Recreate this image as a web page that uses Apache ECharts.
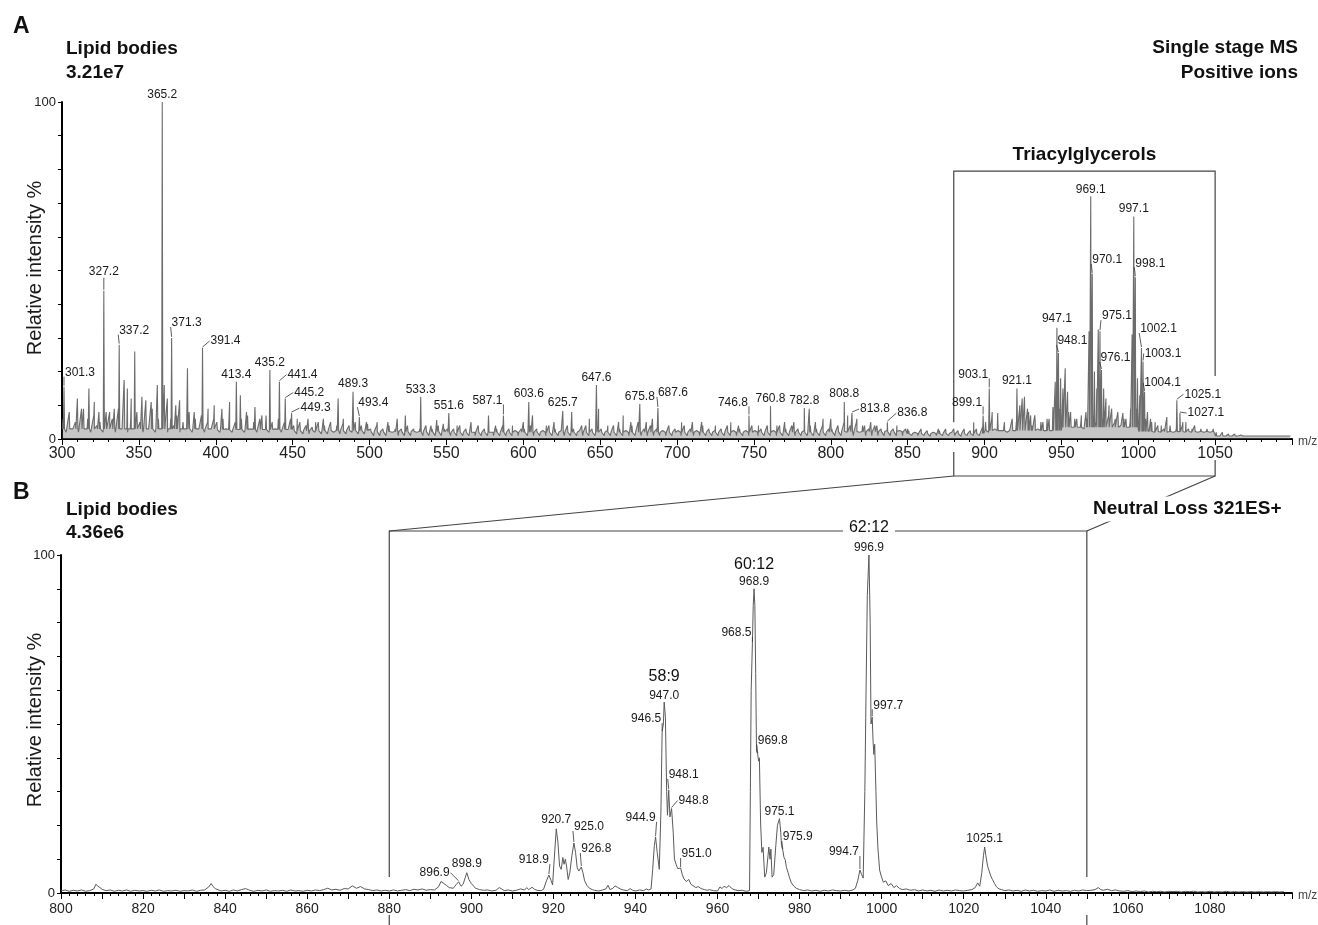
<!DOCTYPE html>
<html><head><meta charset="utf-8">
<script src="https://cdn.jsdelivr.net/npm/echarts@6/dist/echarts.min.js"></script>
<style>html,body{margin:0;padding:0;background:#fff}#c{width:1318px;height:925px}</style>
</head><body><div id="c"></div>
<script>
// ---------- DATA ----------
const topNoiseStart = 300, topNoiseStep = 2;
const topNoise = [
6,2,8,3,5,2,9,3,6,2,7,4,5,2,8,3,6,2,9,3,7,2,6,3,8,
5,2,7,3,9,2,6,3,8,2,6,4,7,2,5,3,8,2,6,3,7,2,5,3,6,
5,2,6,3,7,2,5,3,6,2,7,3,5,2,6,3,7,2,5,3,6,2,5,3,6,
4,1.5,5,1.5,4,1.5,3.5,2,5,1.5,4,1.5,5,2,4,1.5,4.5,1.5,4,2,5,1.5,4,1.5,4.5,
3,1,4,1,3,1,4,2,3,1,3,1,4,1,3,2,3,1,4,1,3,1,4,1,3,
3,1,3,1,4,1,3,1,2.5,1,4,1,3,1,2.5,1,3,1,4,1,3,1,2.5,1,3,
3,1,4,1,3,1,2.5,1,4,1,3,1,2.5,1,4,1,3,1,2.5,1,4,1,3,1,4,
3,1,2.5,1,4,1,3,1,2.5,1,4,1,5,1,3,1,4,1,3,1,2.5,1,4,1,3,
2.5,1,4,1,3,1,2.5,1,4,1,3,1,2.5,1,3,1,4,1,2.5,1,3,1,2.5,1,4,
2.5,1,3,1,4,1,2.5,1,4,1,3,1,4,1,3,1,2.5,1,4,1,3,1,4,1,3,
3,1,4,1,5,2,4,1,5,2,4,1,3,1,4,1,3,1,2.5,1,3,1,2.5,1,3,
2.5,1,2,1,3,1,2.5,0.8,2,1,2.5,1,3,1,2,1,2.5,0.8,3,1,2.5,1,3,1,3.5,
5,2,6,3,5,2,4,2,3,2,5,3,6,3,8,4,7,3,5,2,6,3,7,4,9,
10,5,8,4,6,3,5,3,6,3,7,5,9,6,10,7,9,5,8,4,6,3,5,4,9,
8,4,6,3,5,2,4,2,3,2,4,2,3,2,4,2,3,2,4,2,3,2,3,2,3,
2,1,2,1,1.5,0.8,1.5,0.8,1.2,0.6,1.2,0.6,1,0.6,1,0.5,1,0.5,1,0.5,0.9,0.5,0.9,0.5,0.8
];
// baseline (dense noise band) level for each 50-unit segment, 300 -> 1100
const topBandLevel = [3, 3, 2.8, 2.5, 2.2, 2, 2, 2, 2, 2, 2.2, 1.6, 2.5, 3.5, 2.2, 0.9];
const topPeaks = [
[301.3,15.5],[305,8],[310,12],[314,9],[317.5,15],[321,11],[324,8],[327.2,44],[331,8],[334,9],[337.2,28],[340.4,17.5],[342.5,15],[345,12],[347.3,26],[352,12.5],[354.5,11.5],[358,11],[362,16],[365.2,100],[366.5,16],[368.5,12],[371.3,30],[374,10],[376.5,11.5],[381.6,21],[386,8],[391.4,27],[395,9],[399,10],[404,9],[409,11],[413.4,17],[416,13],[420,8],[425.5,9.5],[430,7],[435.2,20.5],[441.4,17],[445.2,12],[449.3,7.7],[453,6],[460,6],[465,5],[470,6],[479.6,12],[483,6],[489.3,14],[493.4,6.5],[498,5],[505,5],[512,5],[518,6],[523.3,7],[533.3,12.5],[540,4],[543.7,5.6],[548,4.5],[551.6,7.7],[557,4],[566,5],[577.4,7],[582,4],[587.1,7],[593,4],[600,5],[603.6,11],[606,7],[615,4],[620,5],[625.7,8.3],[631.5,8],[638,4],[643,6],[647.6,16],[649,9],[655,4],[662,5],[665,7],[670,5],[675.8,10.4],[680,5],[684,6],[687.6,9.2],[695,4],[703,5],[710,5],[716,5],[725,4],[735,5],[740,4],[746.8,7],[753,4],[760.8,9.8],[765,4],[770,5],[776,5],[782.8,9.2],[786,9],[790,5],[795,6],[800,6],[805,4],[808.8,11],[811,7],[813.8,7.7],[817,6],[822,4],[826,5],[830,4],[836.8,5],[843,4],[850,3],[870,3],[880,3],[893,5],[899.1,7],[903.1,15],[905,8],[908.6,7.7],[913,5],[918,6],[921.1,15],[923,10],[924.5,12],[926,12.5],[928,9],[930,7],[933,5],[938,5],[942,6],[944.5,9.5],[946,17],[947.1,33],[948.1,25.5],[949.5,18],[951,15],[952.5,21],[954,14],[956,8],[960,6],[963,7],[966,8],[968,32],[969.1,72],[970.1,49],[971.5,20],[973,15],[974,32.5],[975.1,32],[976.1,20.5],[977.5,15],[979,12],[981,10],[983,9],[985,6],[987,5],[990,7.7],[992,6],[995,9],[996,31],[997.1,66],[998.1,48],[999.5,18],[1001,13],[1002.1,27],[1003.1,23],[1004.1,14],[1006,8],[1008,6],[1011,5],[1015,4],[1018.6,6.5],[1021,4],[1025.1,11.5],[1027.1,7.7],[1029,5],[1031,5],[1035,3],[1040,2.5]
];
const topLabels = ['301.3','327.2','337.2','365.2','371.3','391.4','413.4','435.2','441.4','445.2','449.3','489.3','493.4','533.3','551.6','587.1','603.6','625.7','647.6','675.8','687.6','746.8','760.8','782.8','808.8','813.8','836.8','899.1','903.1','921.1','947.1','948.1','969.1','970.1','975.1','976.1','997.1','998.1','1002.1','1003.1','1004.1','1025.1','1027.1'];
const topTickLabels = [300,350,400,450,500,550,600,650,700,750,800,850,900,950,1000,1050];

const bottomProfile = [
[800,0.6],[801,0.9],[802,0.5],[803,0.8],[804,0.6],[805,0.9],[806,0.5],[807,0.7],[808,1.2],[808.5,2.6],[809,2.0],[809.5,1.6],[810,1.1],[811,0.7],[812,0.9],[813,0.5],[814,0.8],[815,0.6],[816,0.9],[817,0.5],[818,0.8],[819,0.6],[820,0.7],[821,0.5],[822,0.8],[823,0.6],[824,0.9],[825,0.5],[826,0.7],[827,0.6],[828,0.8],[829,0.5],[830,0.7],[831,0.6],[832,0.9],[833,0.5],[834,0.8],[835,0.9],[836,1.8],[836.6,2.8],[837,2.0],[837.6,1.3],[838,0.9],[839,0.6],[840,0.8],[841,0.5],[842,0.9],[843,0.6],[844,1.0],[845,1.3],[846,0.8],[847,0.5],[848,0.8],[849,0.6],[850,0.9],[851,0.5],[852,0.7],[853,0.6],[854,0.8],[855,0.5],[856,0.9],[857,0.6],[858,0.7],[859,0.5],[860,0.8],[861,0.6],[862,0.9],[863,0.7],[864,1.0],[865,1.4],[866,0.9],[867,1.1],[868,0.8],[869,1.3],[870,1.2],[871,2.1],[872,1.4],[873,1.9],[874,1.2],[875,1.0],[876,0.7],[877,0.9],[878,0.6],[879,0.8],[880,0.6],[881,0.9],[882,0.6],[883,0.8],[884,1.0],[885,0.7],[886,1.1],[887,0.9],[888,1.2],[889,0.8],[890,1.0],[891,0.9],[892,1.8],[892.6,3.4],[893.3,2.8],[894,2.2],[894.6,1.6],[895,1.2],[895.6,1.4],[896.3,2.5],[896.9,3.3],[897.5,2.0],[898,2.6],[898.5,4.5],[898.9,6.0],[899.4,4.0],[900,2.8],[900.6,2.0],[901,1.4],[902,1.0],[903,0.8],[904,0.9],[905,0.6],[906,0.8],[906.8,1.6],[907.4,1.2],[908,0.7],[909,0.9],[910,0.6],[911,0.8],[912,1.2],[913,0.9],[913.5,1.6],[914,1.0],[914.8,1.7],[915.4,1.1],[916,0.8],[917,0.7],[917.6,1.1],[918.3,3.6],[918.9,5.3],[919.4,3.8],[919.8,2.4],[920.2,10],[920.7,19],[921.1,15],[921.5,8],[921.9,7],[922.3,10.5],[922.6,8.5],[922.9,10],[923.2,8],[923.6,4],[924,6],[924.5,11],[925,14.8],[925.4,12],[925.8,7.5],[926.2,6.5],[926.8,7.7],[927.2,6],[927.6,3.6],[928.2,2.2],[928.8,1.4],[929.5,1.0],[930,0.8],[931,0.6],[932,0.9],[932.8,1.2],[933.3,2.3],[933.8,1.0],[934.5,1.4],[935,2.1],[935.6,1.7],[936.3,1.2],[937,0.9],[938,0.7],[938.7,1.3],[939.3,0.8],[940,0.6],[941,0.9],[942,0.7],[942.6,1.2],[943.2,0.9],[943.8,1.2],[944.2,7],[944.6,14],[944.9,16.6],[945.3,12],[945.8,7],[946.2,24],[946.5,47.6],[946.8,50],[947.0,56.5],[947.3,52],[947.6,30],[947.8,23],[948.1,30.5],[948.4,22.5],[948.8,25],[949.2,18],[949.5,10],[949.9,8.5],[950.3,7.2],[951.0,7.4],[951.4,5.5],[951.8,4.2],[952.4,3.4],[953,4.0],[953.5,2.6],[954,2.2],[954.7,1.6],[955.3,1.9],[956,1.3],[956.8,1.0],[957.5,0.8],[958,1.0],[959,0.7],[960,0.6],[960.6,1.8],[961.1,1.3],[961.6,2.0],[962.2,1.6],[962.8,2.2],[963.4,1.4],[964,1.0],[965,0.7],[966,0.8],[967,0.5],[967.8,0.7],[968.0,30],[968.2,60],[968.5,74],[968.7,85],[968.9,90],[969.1,85],[969.3,65],[969.5,42],[969.8,41],[970.0,39],[970.2,40],[970.5,20.7],[970.8,12],[971.1,13.5],[971.5,4.7],[971.9,6],[972.3,11],[972.5,13.6],[972.8,10],[973.0,13],[973.3,4.7],[973.7,5.5],[974.2,14],[974.6,20],[975.1,22],[975.4,18],[975.6,14],[975.9,12.7],[976.2,10.5],[976.5,9.8],[976.8,7.5],[977.2,6],[977.5,4.7],[978,3.0],[978.6,2.0],[979.2,1.4],[980,1.0],[981,0.7],[982,0.9],[983,0.6],[984,0.8],[985,0.5],[986,0.8],[987,0.6],[988,0.9],[989,0.7],[990,0.6],[991,0.8],[992,0.6],[993,0.9],[993.6,1.4],[994.2,3.8],[994.7,6.8],[995.1,5.5],[995.5,4.4],[995.9,30],[996.2,60],[996.5,88],[996.9,100],[997.2,80],[997.4,50],[997.7,52],[997.9,45],[998.1,41],[998.3,44],[998.6,30],[998.8,20.7],[999.1,13],[999.5,6.8],[999.9,5.0],[1000.4,3.2],[1001,3.6],[1001.6,2.2],[1002.3,2.8],[1003,1.6],[1003.6,2.2],[1004.3,1.4],[1005,1.0],[1006,1.2],[1007,0.8],[1008,1.0],[1009,0.6],[1010,0.9],[1011,0.6],[1012,0.8],[1013,0.5],[1014,0.9],[1015,0.6],[1016,0.8],[1017,0.6],[1018,0.9],[1019,0.7],[1020,0.6],[1021,0.8],[1022,1.0],[1022.8,1.6],[1023.4,3.0],[1023.9,2.0],[1024.4,6],[1024.8,11],[1025.1,13.6],[1025.4,11],[1025.8,8],[1026.2,7.5],[1026.6,5],[1027,4],[1027.5,2.8],[1028,1.8],[1028.6,1.2],[1029.2,1.0],[1030,0.7],[1031,0.9],[1032,0.6],[1033,0.8],[1034,0.5],[1035,0.9],[1036,0.6],[1037,0.8],[1038,0.5],[1039,0.7],[1040,0.6],[1041,0.9],[1042,0.5],[1043,0.8],[1044,0.6],[1045,0.7],[1046,0.5],[1047,0.8],[1048,0.6],[1049,0.9],[1050,0.7],[1051,0.8],[1052,1.0],[1052.8,1.6],[1053.4,1.0],[1054,0.8],[1055,1.1],[1056,0.7],[1057,0.9],[1058,0.6],[1059,0.5],[1060,0.7],[1061,0.4],[1062,0.6],[1063,0.4],[1064,0.6],[1065,0.3],[1066,0.5],[1067,0.4],[1068,0.5],[1069,0.3],[1070,0.5],[1071,0.4],[1072,0.5],[1073,0.3],[1074,0.5],[1075,0.4],[1076,0.5],[1077,0.3],[1078,0.4],[1079,0.3],[1080,0.5],[1081,0.3],[1082,0.4],[1083,0.3],[1084,0.5],[1085,0.3],[1086,0.4],[1087,0.3],[1088,0.4],[1089,0.3],[1090,0.4],[1091,0.3],[1092,0.4],[1093,0.3],[1094,0.4],[1095,0.3],[1096,0.4],[1097,0.3],[1098,0.4]
];
const bottomLabels = ['896.9','898.9','918.9','920.7','925.0','926.8','944.9','946.5','947.0','948.1','948.8','951.0','968.5','968.9','969.8','975.1','975.9','994.7','996.9','997.7','1025.1'];
const groupLabels = [['947.0','58:9'],['968.9','60:12'],['996.9','62:12']];
const bottomTickLabels = [800,820,840,860,880,900,920,940,960,980,1000,1020,1040,1060,1080];
const zoomRange = [880, 1050];

// ---------- LAYOUT / STYLE ----------
const FONT = '"Liberation Sans", Arial, Helvetica, sans-serif';
const topOffsets = {'301.3':[16,-14],'327.2':[0,-19],'337.2':[15,-14],'365.2':[0,-7],'371.3':[15,-15],'391.4':[23,-7],'413.4':[0,-7],'435.2':[0,-7],'441.4':[23,-7],'445.2':[24,-6],'449.3':[24,-5],'489.3':[0,-8],'493.4':[14,-14],'533.3':[0,-7],'551.6':[0,-7],'587.1':[-16,-15],'603.6':[0,-8],'625.7':[0,-8],'647.6':[0,-7],'675.8':[0,-7],'687.6':[15,-15],'746.8':[-16,-13],'760.8':[0,-7],'782.8':[0,-7],'808.8':[0,-8],'813.8':[23,-4],'836.8':[25,-9],'899.1':[-16,-13],'903.1':[-16,-14],'921.1':[0,-8],'947.1':[0,-9],'948.1':[14,-12],'969.1':[0,-7],'970.1':[15,-14],'975.1':[17,-15],'976.1':[14,-12],'997.1':[0,-8],'998.1':[15,-14],'1002.1':[17,-19],'1003.1':[20,-8],'1004.1':[18,-9],'1025.1':[26,-6],'1027.1':[26,0]};
const bottomOffsets = {'896.9':[-24,-9],'898.9':[0,-9],'918.9':[-15,-15],'920.7':[0,-9],'925.0':[15,-16],'926.8':[15,-18],'944.9':[-15,-19],'946.5':[-16,-13],'947.0':[0,-6],'948.1':[15,-15],'948.8':[22,-8],'951.0':[16,-14],'968.5':[-16,-10],'968.9':[0,-7],'969.8':[15,-14],'975.1':[0,-7],'975.9':[15,-13],'994.7':[-16,-18],'996.9':[0,-7],'997.7':[16,-12],'1025.1':[0,-8]};
const groupOffsets = {'58:9':-25,'60:12':-24,'62:12':-27};

// ---------- BUILD ----------
function nearestHeight(list, mz){
  let best = null, bd = 1e9;
  list.forEach(p => { const d = Math.abs(p[0]-mz); if (d < bd){ bd = d; best = p[1]; } });
  return best;
}
function bandAt(x){
  const i = Math.min(topBandLevel.length-1, Math.max(0, Math.floor((x-300)/50)));
  return topBandLevel[i];
}
const topLine = [];
const addStick = (m, h) => { const b = bandAt(m); topLine.push([m-0.35,b],[m,h],[m+0.35,b]); };
topNoise.forEach((v,i) => addStick(topNoiseStart + i*topNoiseStep + 0.7, v));
topPeaks.forEach(([m,h]) => addStick(m, h));
topLine.sort((a,b) => a[0]-b[0]);

function labelSeries(axisIdx, labels, source, offsets){
  return {
    type:'custom', xAxisIndex:axisIdx, yAxisIndex:axisIdx, z:10, silent:true, clip:false, animation:false,
    data: labels.map(t => [parseFloat(t), nearestHeight(source, parseFloat(t))]),
    renderItem: (params, api) => {
      const t = labels[params.dataIndex];
      const p = api.coord([api.value(0), api.value(1)]);
      const off = offsets[t] || [0,-7];
      const cx = p[0]+off[0], cy = p[1]+off[1];
      const w = (t.length-1)*6.67+3.3;
      const children = [{type:'text', style:{text:t, x:cx, y:cy, align:'center', verticalAlign:'middle', textAlign:'center', textVerticalAlign:'middle', fontSize:12, fontFamily:FONT, fill:'#1a1a1a'}}];
      let ex, ey;
      if (off[0] === 0){ ex = p[0]; ey = cy+6; }
      else { ex = cx - Math.sign(off[0])*(w/2+1); ey = cy + (off[1] <= -10 ? 4 : 0); }
      const sy = p[1]-1;
      if (Math.hypot(ex-p[0], ey-sy) > 3){
        children.push({type:'line', shape:{x1:p[0], y1:sy, x2:ex, y2:ey}, style:{stroke:'#333', lineWidth:0.8}});
      }
      return {type:'group', children};
    }
  };
}
const groupSeries = {
  type:'custom', xAxisIndex:1, yAxisIndex:1, z:12, silent:true, clip:false, animation:false,
  data: groupLabels.map(g => [parseFloat(g[0]), nearestHeight(bottomProfile, parseFloat(g[0]))]),
  renderItem: (params, api) => {
    const t = groupLabels[params.dataIndex][1];
    const p = api.coord([api.value(0), api.value(1)]);
    return {type:'text', z2:20, style:{text:t, x:p[0], y:p[1]+groupOffsets[t], align:'center', verticalAlign:'middle', textAlign:'center', textVerticalAlign:'middle', fontSize:16, fontFamily:FONT, fill:'#111', backgroundColor:'#fff', padding:[1,6]}};
  }
};

function yAxisCfg(idx){
  return {
    type:'value', gridIndex:idx, min:0, max:100, interval:10,
    axisLine:{show:true, lineStyle:{color:'#000', width:2}},
    axisTick:{show:true, length:4, lineStyle:{color:'#000', width:1}},
    axisLabel:{formatter: v => (v===0 || v===100) ? String(v) : '', fontSize:13, color:'#222', fontFamily:FONT, margin:6},
    splitLine:{show:false}
  };
}
function xAxisCfg(idx, min, max, interval, labels, fs, margin){
  return {
    type:'value', gridIndex:idx, min:min, max:max, interval:interval,
    axisLine:{show:true, onZero:false, lineStyle:{color:'#000', width:2}},
    axisTick:{show:true, length:6, lineStyle:{color:'#000', width:1}},
    minorTick:{show:true, splitNumber:5, length:3, lineStyle:{color:'#000', width:1}},
    axisLabel:{formatter: v => labels.indexOf(v) >= 0 ? String(v) : '', fontSize:fs, color:'#222', fontFamily:FONT, margin:margin},
    splitLine:{show:false}, minorSplitLine:{show:false}
  };
}

const option = {
  animation:false,
  backgroundColor:'#fff',
  grid:[
    {left:62, top:102, width:1230, height:337},
    {left:61, top:555, width:1231, height:338}
  ],
  xAxis:[
    xAxisCfg(0, 300, 1100, 50, topTickLabels, 16, 7),
    xAxisCfg(1, 800, 1100, 10, bottomTickLabels, 14, 9)
  ],
  yAxis:[yAxisCfg(0), yAxisCfg(1)],
  series:[
    {type:'line', xAxisIndex:0, yAxisIndex:0, data:topLine, showSymbol:false, symbol:'none', silent:true,
     lineStyle:{color:'#6c6c6c', width:1.1}, areaStyle:{color:'rgba(120,120,120,0.6)'}, z:3},
    {type:'line', xAxisIndex:1, yAxisIndex:1, data:bottomProfile, showSymbol:false, symbol:'none', silent:true,
     lineStyle:{color:'#5a5a5a', width:1}, z:3},
    labelSeries(0, topLabels, topPeaks, topOffsets),
    labelSeries(1, bottomLabels, bottomProfile, bottomOffsets),
    groupSeries
  ]
};

const chart = echarts.init(document.getElementById('c'), null, {renderer:'canvas'});
chart.setOption(option);

// ---------- ANNOTATIONS ----------
const T = (x,y) => chart.convertToPixel({xAxisIndex:0, yAxisIndex:0}, [x,y]);
const B = (x,y) => chart.convertToPixel({xAxisIndex:1, yAxisIndex:1}, [x,y]);
const boxTop = T(zoomRange[0], 79.5)[1];
const tl = T(zoomRange[0], 5), tr = T(zoomRange[1], 18.7);
const xL = tl[0], xR = tr[0];
const bl = B(zoomRange[0], 4.7), br = B(zoomRange[1], 4.7);
const bL = bl[0], bR = br[0];
const linkY = 476, bracketY = 531;
const LS = {stroke:'#444', lineWidth:1.2, fill:null};
function txt(t, x, y, o){
  return Object.assign({type:'text', x:x, y:y, z:50, style:Object.assign({text:t, fontFamily:FONT, fill:'#111', fontSize:19, fontWeight:'bold', align:'left', verticalAlign:'middle', textAlign:'left', textVerticalAlign:'middle'}, o||{})});
}
const graphics = [
  {type:'polyline', z:1, shape:{points:[[xL,tl[1]],[xL,boxTop],[xR,boxTop],[xR,tr[1]]]}, style:LS},
  {type:'polyline', z:1, shape:{points:[[xL,452],[xL,linkY],[xR,linkY],[xR,460]]}, style:LS},
  {type:'line', z:1, shape:{x1:xL, y1:linkY, x2:bL, y2:bracketY}, style:LS},
  {type:'line', z:1, shape:{x1:xR, y1:linkY, x2:bR, y2:bracketY}, style:LS},
  {type:'polyline', z:1, shape:{points:[[bL,bl[1]],[bL,bracketY],[bR,bracketY],[bR,br[1]]]}, style:LS},
  {type:'line', z:1, shape:{x1:bL, y1:915, x2:bL, y2:925}, style:LS},
  {type:'line', z:1, shape:{x1:bR, y1:915, x2:bR, y2:925}, style:LS},
  txt('A', 13, 27, {fontSize:23, fontWeight:'bold'}),
  txt('Lipid bodies', 66, 49),
  txt('3.21e7', 66, 73),
  txt('Single stage MS', 1298, 48, {align:'right', textAlign:'right'}),
  txt('Positive ions', 1298, 73, {align:'right', textAlign:'right'}),
  txt('Triacylglycerols', (xL+xR)/2, 155, {align:'center', textAlign:'center'}),
  txt('B', 13, 493, {fontSize:23, fontWeight:'bold'}),
  txt('Lipid bodies', 66, 510),
  txt('4.36e6', 66, 533),
  txt('Neutral Loss 321ES+', 1091, 509, {backgroundColor:'#fff', padding:[3,2]}),
  txt('Relative intensity %', 35, 268, {align:'center', textAlign:'center', fontWeight:'normal', fontSize:20, fill:'#1a1a1a'}),
  txt('Relative intensity %', 35, 720, {align:'center', textAlign:'center', fontWeight:'normal', fontSize:20, fill:'#1a1a1a'}),
  txt('m/z', 1298, 442, {fontWeight:'normal', fontSize:12, fill:'#444'}),
  txt('m/z', 1298, 896, {fontWeight:'normal', fontSize:12, fill:'#444'})
];
graphics[17].rotation = Math.PI/2;
graphics[18].rotation = Math.PI/2;
chart.setOption({graphic:{elements:graphics}});
</script>
</body></html>
